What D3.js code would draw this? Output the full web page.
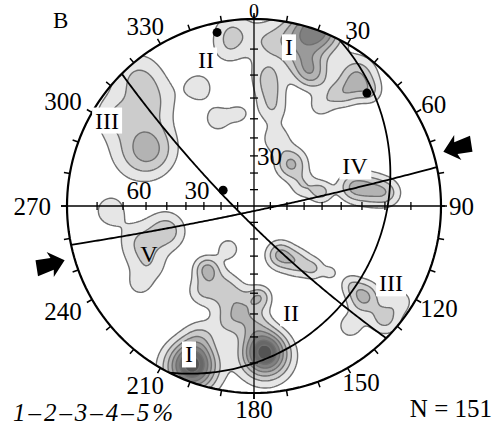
<!DOCTYPE html>
<html>
<head>
<meta charset="utf-8">
<script src="https://cdn.jsdelivr.net/npm/d3@7"></script>
<style>
  html, body { margin: 0; padding: 0; background: #fff; }
  svg { display: block; font-family: "Liberation Serif", "Times New Roman", serif; }
</style>
</head>
<body>
<svg id="chart" width="501" height="430"></svg>
<script>
// pole density clusters
// azimuth (deg), dip (0 = centre, 90 = rim), peak density (%), spread (deg)
const clusterAzimuth = [298, 318, 316, 303, 353, 351, 335, 337.5, 351, 268,
                        254, 253, 240.5, 235.6, 152, 142, 136, 131, 216.7, 201,
                        187, 176, 211, 212, 192.5, 175.7, 201.3, 202.6, 19.6, 23.2,
                        38.4, 3.8, 5.6, 10.5, 18.2, 41.4, 67.8, 78.2, 79.1, 82.3,
                        84.5, 33.4, 39.8, 12.3, 129.6, 130.8, 123, 141.3, 129.1,
                        17.5, 36.1, 45.5, 7.9, 179.5];
const clusterDip = [66, 86, 76, 83, 87, 81, 70, 53.5, 53, 75,
                    52, 66, 66, 73, 33, 42, 50, 57, 45.6, 50.4,
                    56.6, 52, 30, 56.6, 65, 76.5, 84.8, 74, 90, 75.5,
                    83.2, 83, 71, 55.7, 41.3, 33.3, 31.6, 40.2, 56.7, 65,
                    71.5, 65.3, 76.4, 84.2, 74.7, 85.5, 86, 78.8, 67,
                    78.6, 72.6, 82, 64.1, 64.9];
const clusterPeak = [3.6, 1.7, 1.7, 1.5, 1.5, 1.5, 1.5, 1.5, 1.2, 1.5,
                     2.6, 1.6, 1.6, 1.2, 3.2, 2.2, 1.7, 1.3, 3.1, 2.2,
                     2.2, 2.3, 1.7, 1.5, 1.6, 7.6, 7.6, 1.6, 5.6, 3.3,
                     2.9, 1.6, 1.7, 1.7, 1.7, 3.2, 1.7, 2.3, 2.9, 2.4,
                     1.8, 1.4, 1.4, 1.8, 3.3, 2.3, 1.5, 1.5, 1.4,
                     1.5, 1.5, 1.6, 1.5, 1.6];
const clusterSpread = [9, 5.9, 6.8, 5.2, 4.2, 4.6, 4.9, 5.4, 3.9, 5,
                       6.9, 6, 6, 3.2, 5.6, 5.3, 4.0, 2.4, 4.7, 6.5,
                       6.5, 4.0, 4.6, 4.7, 5.0, 6.0, 5.7, 4.7, 5.5, 4.6,
                       4.5, 4.8, 5.0, 5.3, 5.6, 6.2, 5.1, 4.3, 5.2, 5.0,
                       4.0, 3.9, 3.8, 4.7, 4.3, 3.6, 3.0, 3.7, 3.4,
                       4.4, 4.0, 3.1, 4.8, 5.2];

const contourLevels = [1, 2, 3, 4, 5, 6, 7];

// planes, given by their poles (trend, plunge)
const poleTrend = [348, 45, 297];
const polePlunge = [3, 9, 69];

// compression arrows
const arrowAzimuth = [74, 254];

// rim and axis graduations
const rimLabels = [0, 30, 60, 90, 120, 150, 180, 210, 240, 270, 300, 330];
const axisTickDips = [10, 20, 30, 40, 50, 60, 70, 80];
const leftAxisLabels = [60, 30];
const upAxisLabels = [30];

// cluster names
const clusterNames = ["I", "II", "III", "IV", "V", "III", "II", "I"];
const nameAzimuth = [12.4, 341.8, 300.3, 68.4, 245.4, 119.3, 160.9, 203.7];
const nameDip = [82.1, 78.8, 84.6, 60.3, 63.4, 80.1, 62.4, 81.7];
const nameBoxed = [true, true, true, true, false, true, true, true];

const cx = 254, cy = 206, R = 187;
const svg = d3.select("#chart");

const projection = d3.geoStereographic()
    .scale(R)
    .translate([cx, cy])
    .rotate([0, -90])
    .clipAngle(90)
    .precision(0.1);
const geo = (az, dip) => [180 - az, 90 - dip];
const path = d3.geoPath(projection);

// density grid
const step = 2;
const x0 = cx - R - 4, y0 = cy - R - 4;
const n = Math.ceil((2 * R + 8) / step);
const centres = clusterAzimuth.map((a, i) => geo(a, clusterDip[i]));
const values = new Float64Array(n * n);
for (let j = 0; j < n; j++) {
    for (let i = 0; i < n; i++) {
        const p = projection.invert([x0 + (i + 0.5) * step, y0 + (j + 0.5) * step]);
        let v = 0;
        for (let k = 0; k < centres.length; k++) {
            const d = d3.geoDistance(p, centres[k]) * 180 / Math.PI / clusterSpread[k];
            if (d < 5) v += clusterPeak[k] * Math.exp(-0.5 * d * d);
        }
        values[j * n + i] = v;
    }
}
const contours = d3.contours().size([n, n]).thresholds(contourLevels)(values);
const gridPath = d3.geoPath(d3.geoIdentity().scale(step).translate([x0, y0]));
const fills = ["#e6e6e6", "#cccccc", "#b3b3b3", "#9a9a9a", "#808080", "#686868", "#545454"];

svg.append("clipPath").attr("id", "net")
    .append("circle").attr("cx", cx).attr("cy", cy).attr("r", R);

svg.append("g").attr("clip-path", "url(#net)")
    .selectAll("path").data(contours).enter().append("path")
    .attr("d", gridPath)
    .attr("fill", (d, i) => fills[i])
    .attr("stroke", "#707070")
    .attr("stroke-width", 1.4)
    .attr("stroke-linejoin", "round");

// axes with dip graduations
const axes = svg.append("g").attr("stroke", "#000").attr("stroke-width", 1.3);
[0, 90].forEach(az => {
    const a = projection(geo(az, 90)), b = projection(geo(az + 180, 90));
    const ux = (a[0] - b[0]) / (2 * R), uy = (a[1] - b[1]) / (2 * R);
    axes.append("line")
        .attr("x1", a[0] + ux * 4).attr("y1", a[1] + uy * 4)
        .attr("x2", b[0] - ux * 6).attr("y2", b[1] - uy * 6);
});
[0, 90, 180, 270].forEach(az => {
    axisTickDips.forEach(dip => {
        const p = projection(geo(az, dip));
        const horiz = az % 180 !== 0;
        axes.append("line")
            .attr("x1", horiz ? p[0] : p[0] - 4).attr("x2", horiz ? p[0] : p[0] + 4)
            .attr("y1", horiz ? p[1] - 4 : p[1]).attr("y2", horiz ? p[1] + 4 : p[1]);
    });
});

// primitive circle and rim ticks
svg.append("path").datum({type: "Sphere"}).attr("d", path)
    .attr("fill", "none").attr("stroke", "#000").attr("stroke-width", 2.2);
const rim = svg.append("g").attr("stroke", "#000").attr("stroke-width", 1.5);
d3.range(0, 360, 10).forEach(az => {
    const s = Math.sin(az * Math.PI / 180), c = Math.cos(az * Math.PI / 180);
    rim.append("line")
        .attr("x1", cx + R * s).attr("y1", cy - R * c)
        .attr("x2", cx + (R + 6) * s).attr("y2", cy - (R + 6) * c);
});

// great circles of the planes and their poles
svg.append("g").selectAll("path").data(poleTrend).enter().append("path")
    .attr("d", (t, i) => path({
        type: "LineString",
        coordinates: d3.geoCircle().center(geo(t, 90 - polePlunge[i])).radius(90).precision(1)().coordinates[0]
    }))
    .attr("fill", "none").attr("stroke", "#000").attr("stroke-width", 1.8);
svg.append("g").selectAll("circle").data(poleTrend).enter().append("circle")
    .attr("cx", (t, i) => projection(geo(t, 90 - polePlunge[i]))[0])
    .attr("cy", (t, i) => projection(geo(t, 90 - polePlunge[i]))[1])
    .attr("r", 4.5).attr("fill", "#000");

// arrows
svg.append("g").selectAll("path").data(arrowAzimuth).enter().append("path")
    .attr("d", "M0,0L15,-13L13,-6L30,-8L28,8L13,6L15,13Z")
    .attr("transform", az => {
        const s = Math.sin(az * Math.PI / 180), c = Math.cos(az * Math.PI / 180);
        return `translate(${cx + (R + 10) * s},${cy - (R + 10) * c}) rotate(${az - 90})`;
    })
    .attr("fill", "#000");

// rim labels (the top one sits against the page edge, so it is a bit smaller)
const fs = 25;
const labelSize = az => az === 0 ? 20 : fs;
svg.append("g").selectAll("text").data(rimLabels).enter().append("text")
    .attr("x", az => {
        const s = Math.sin(az * Math.PI / 180);
        const w = 0.5 * fs * String(az).length;
        return cx + (R + 8 + 8 * Math.max(0, -s)) * s + s * w / 2;
    })
    .attr("y", az => {
        const s = Math.sin(az * Math.PI / 180), c = Math.cos(az * Math.PI / 180);
        return Math.max(11, cy - (R + 8 + 8 * Math.max(0, -s)) * c - c * 0.34 * fs);
    })
    .attr("dy", "0.35em")
    .attr("text-anchor", "middle")
    .style("font-size", az => labelSize(az) + "px")
    .text(d => d);

// axis labels
svg.append("g").selectAll("text").data(leftAxisLabels).enter().append("text")
    .attr("x", d => projection(geo(270, d))[0] - 7)
    .attr("y", cy - 7)
    .attr("text-anchor", "middle")
    .style("font-size", fs + "px")
    .text(d => d);
svg.append("g").selectAll("text").data(upAxisLabels).enter().append("text")
    .attr("x", cx + 3)
    .attr("y", d => projection(geo(0, d))[1])
    .attr("dy", "0.35em")
    .style("font-size", fs + "px")
    .text(d => d);

// cluster names, most on a white patch
const names = svg.append("g");
clusterNames.forEach((name, i) => {
    const p = projection(geo(nameAzimuth[i], nameDip[i]));
    const t = names.append("text")
        .attr("x", p[0]).attr("y", p[1]).attr("dy", "0.35em")
        .attr("text-anchor", "middle")
        .style("font-size", "24px")
        .text(name);
    if (nameBoxed[i]) {
        const b = t.node().getBBox();
        names.insert("rect", () => t.node())
            .attr("x", b.x - 3).attr("y", b.y).attr("width", b.width + 6).attr("height", b.height)
            .attr("fill", "#fff");
    }
});

svg.append("text").attr("x", 53).attr("y", 28).style("font-size", "23px").text("B");
svg.append("text").attr("x", 13).attr("y", 421)
    .style("font-size", fs + "px").style("font-style", "italic")
    .attr("textLength", 160).attr("lengthAdjust", "spacing")
    .text("1–2–3–4–5%");
svg.append("text").attr("x", 492).attr("y", 417).attr("text-anchor", "end")
    .style("font-size", fs + "px").text("N = 151");
</script>
</body>
</html>
